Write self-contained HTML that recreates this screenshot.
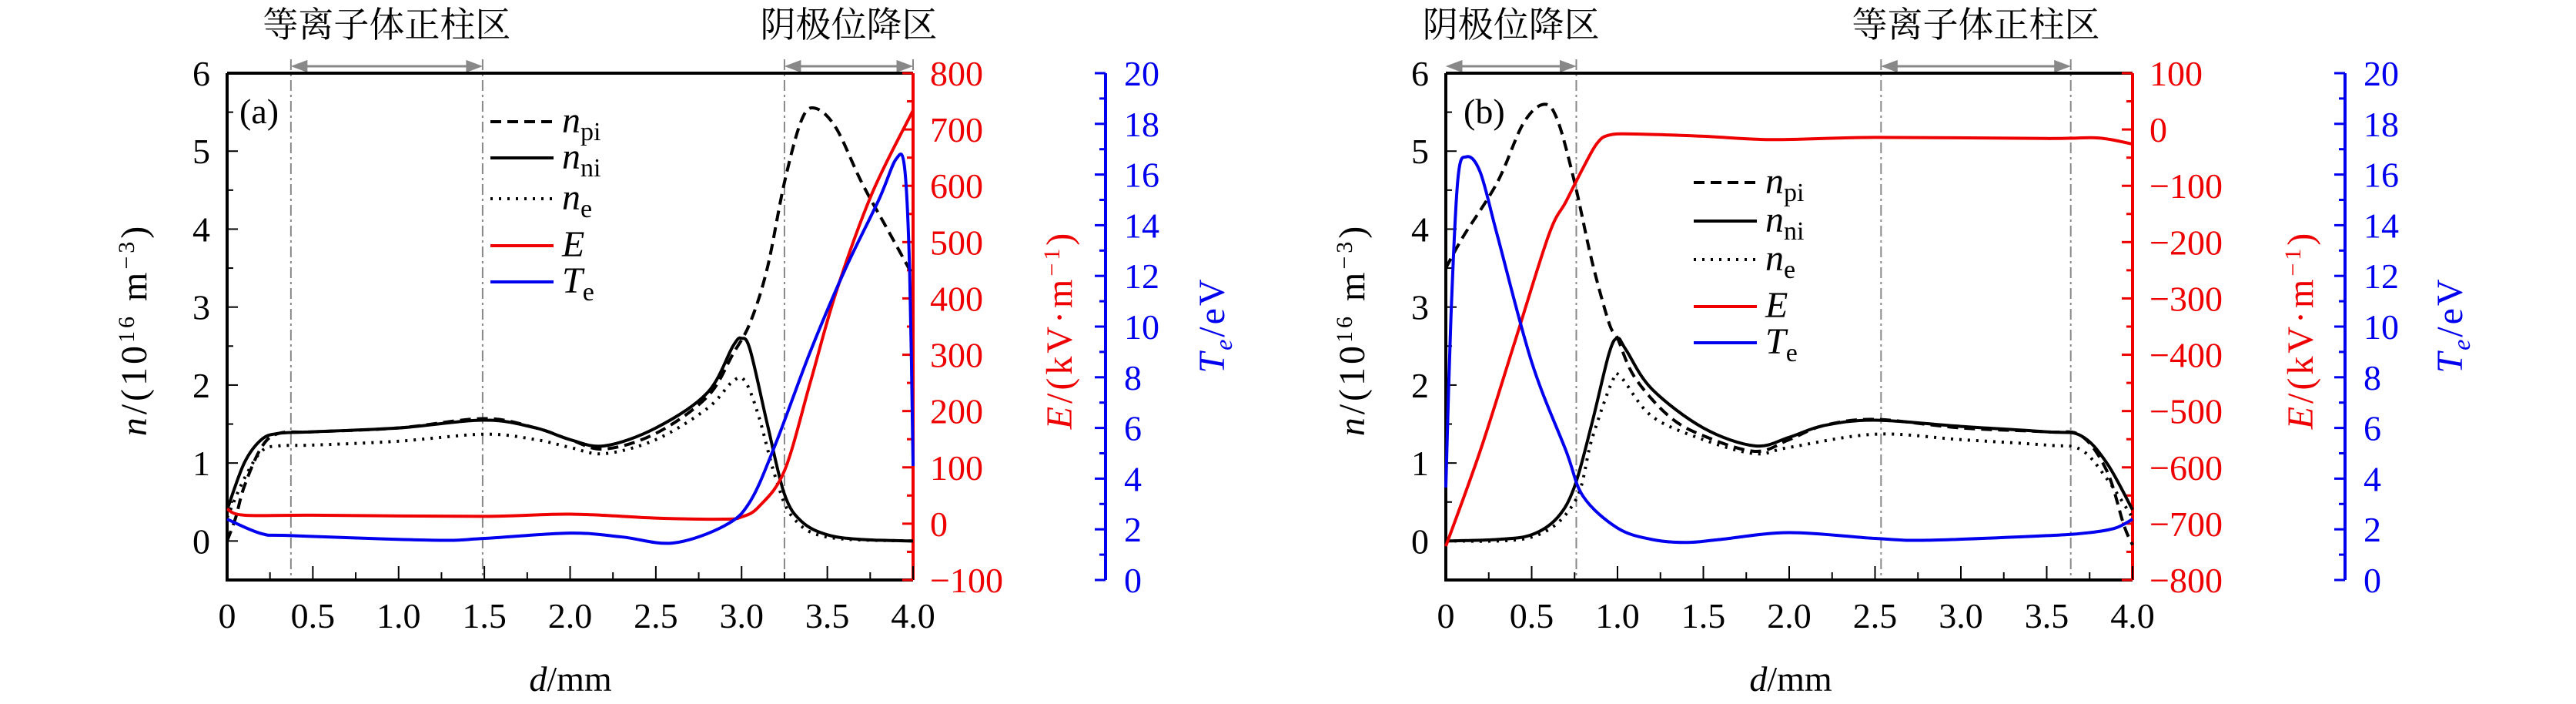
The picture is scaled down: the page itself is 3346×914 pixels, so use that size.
<!DOCTYPE html>
<html><head><meta charset="utf-8"><style>
body{margin:0;background:#fff}
svg{display:block}
text{font-family:"Liberation Serif","Noto Serif CJK SC",serif}
</style></head><body>
<svg id="fig" width="3346" height="914" viewBox="0 0 3346 914" xmlns="http://www.w3.org/2000/svg"></svg>
<script>
// ---- Panel (a) data ----
const aNpiX=[0,0.05,0.1,0.2,0.3,0.5,1.0,1.5,1.8,2.0,2.2,2.5,2.8,2.95,3.05,3.15,3.25,3.35,3.43,3.55,3.7,3.85,4.0];
const aNpiY=[0.0,0.3,0.7,1.2,1.38,1.4,1.45,1.57,1.45,1.3,1.18,1.38,1.85,2.4,2.8,3.5,4.6,5.4,5.55,5.3,4.6,4.0,3.4];
const aNniX=[0,0.1,0.2,0.3,0.5,1.0,1.5,1.8,2.0,2.2,2.5,2.8,2.95,3.0,3.05,3.15,3.25,3.35,3.5,3.7,4.0];
const aNniY=[0.4,1.0,1.3,1.38,1.4,1.45,1.55,1.45,1.3,1.22,1.45,1.9,2.5,2.6,2.45,1.5,0.6,0.25,0.08,0.02,0.0];
const aNeX=[0,0.1,0.2,0.3,0.5,1.0,1.5,1.8,2.0,2.2,2.5,2.8,2.95,3.02,3.1,3.2,3.3,3.5,4.0];
const aNeY=[0.3,0.8,1.15,1.22,1.23,1.28,1.37,1.3,1.2,1.12,1.3,1.7,2.05,2.05,1.6,0.8,0.3,0.05,0.0];
const aEX=[0,0.1,0.5,1.5,2.0,2.5,2.9,3.0,3.1,3.25,3.4,3.55,3.76,4.0];
const aEY=[26,15,15,13,17,10,8,12,30,94,250,410,586,734];
const aTeX=[0,0.2,0.375,1.2,1.5,2.0,2.3,2.6,2.9,3.05,3.2,3.4,3.6,3.8,3.9,3.95,3.98,4.0];
const aTeY=[2.4,1.83,1.75,1.57,1.64,1.85,1.7,1.46,2.14,3.1,5.4,9,12.2,15,16.6,16.3,12.2,4.5];
// ---- Panel (b) data ----
const bNpiX=[0,0.1,0.3,0.45,0.57,0.65,0.75,0.85,0.95,1.0,1.1,1.3,1.5,1.8,2.0,2.2,2.5,3.0,3.5,3.7,3.85,3.95,4.0];
const bNpiY=[3.5,3.9,4.6,5.35,5.6,5.4,4.6,3.6,2.8,2.6,2.1,1.6,1.35,1.15,1.3,1.48,1.56,1.45,1.4,1.35,0.9,0.2,-0.05];
const bNniX=[0,0.3,0.5,0.65,0.75,0.85,0.95,1.0,1.05,1.2,1.5,1.8,2.0,2.2,2.5,3.0,3.5,3.7,3.85,4.0];
const bNniY=[0,0.02,0.08,0.3,0.7,1.5,2.4,2.6,2.45,1.95,1.45,1.22,1.33,1.48,1.55,1.47,1.4,1.35,1.0,0.4];
const bNeX=[0,0.5,0.75,0.85,0.97,1.02,1.2,1.5,1.8,2.0,2.5,3.0,3.5,3.7,3.85,4.0];
const bNeY=[0,0.05,0.5,1.3,2.05,2.1,1.6,1.3,1.12,1.2,1.37,1.3,1.23,1.17,0.8,0.3];
const bEX=[0,0.2,0.4,0.6,0.7,0.8,0.88,0.95,1.1,1.5,1.9,2.5,3.5,3.8,4.0];
const bEY=[-740,-571,-379,-187,-128,-68,-25,-10,-8,-12,-18,-14,-16,-15,-26];
const bTeX=[0,0.03,0.07,0.12,0.2,0.3,0.5,0.7,0.8,1.0,1.2,1.4,1.6,2.0,2.5,2.8,3.5,3.75,3.9,4.0];
const bTeY=[3.65,10.4,15.8,16.7,16.1,13.6,8.6,5.1,3.3,2.05,1.6,1.48,1.6,1.87,1.64,1.57,1.75,1.87,2.05,2.4];
// axis ticks
const xTicks=[0,0.5,1.0,1.5,2.0,2.5,3.0,3.5,4.0];
const xTickLabels=["0","0.5","1.0","1.5","2.0","2.5","3.0","3.5","4.0"];
const nTicks=[0,1,2,3,4,5,6];
const teTicks=[0,2,4,6,8,10,12,14,16,18,20];
const aETicks=[-100,0,100,200,300,400,500,600,700,800];
const bETicks=[-800,-700,-600,-500,-400,-300,-200,-100,0,100];

const NS="http://www.w3.org/2000/svg";
const svg=document.getElementById('fig');
function el(tag,attrs,parent,txt){const e=document.createElementNS(NS,tag);for(const k in attrs)e.setAttribute(k,attrs[k]);if(txt!==undefined)e.textContent=txt;(parent||svg).appendChild(e);return e;}
function smooth(pts){let d=`M${pts[0][0]},${pts[0][1]}`;for(let i=0;i<pts.length-1;i++){const p0=pts[i-1]||pts[i],p1=pts[i],p2=pts[i+1],p3=pts[i+2]||p2;const c1=[p1[0]+(p2[0]-p0[0])/6,p1[1]+(p2[1]-p0[1])/6],c2=[p2[0]-(p3[0]-p1[0])/6,p2[1]-(p3[1]-p1[1])/6];d+=` C${c1[0]},${c1[1]} ${c2[0]},${c2[1]} ${p2[0]},${p2[1]}`;}return d;}
const MINUS="\u2212";
function fmt(v){return v<0?MINUS+Math.abs(v):String(v);}

function panel(cfg){
  const g=el('g',{});
  
  
  const L=cfg.left,R=cfg.right,T=95,B=753;
  const sx=v=>L+(R-L)*v/4;
  const sn=v=>B-(B-T)*(v+0.5)/6.5;
  const sE=v=>B-(B-T)*(v-cfg.eMin)/(cfg.eMax-cfg.eMin);
  const sT=v=>B-(B-T)*v/20;
  cfg.vlines.forEach(v=>{const l=el('line',{x1:sx(v),x2:sx(v),y1:T-18,y2:B,stroke:'#888','stroke-width':2,'stroke-dasharray':'14 5 3 5'},g);
    });
  cfg.arrows.forEach(a=>{const x1=sx(a[0]),x2=sx(a[1]),y=86;
    const p=el('path',{d:`M${x1+4},${y}L${x2-4},${y}M${x1+4},${y}l16,-6v12z M${x2-4},${y}l-16,-6v12z`,stroke:'#888','stroke-width':3,fill:'#888'},g);
    
    const t=el('text',{x:(x1+x2)/2,y:48,'font-size':46,'text-anchor':'middle',fill:'#000'},g,a[2]);
    });
  const fr=el('path',{d:`M${L},${T}H${R}M${L},${T}V${B}H${R}`,stroke:'#000','stroke-width':4,fill:'none'},g);
  
  const ea=el('line',{x1:R,x2:R,y1:T,y2:B,stroke:'#e00','stroke-width':4},g);
  
  const TA=cfg.teAxis;
  const ta=el('line',{x1:TA,x2:TA,y1:T,y2:B,stroke:'#00e','stroke-width':4},g);
  
  for(let v=0;v<=4.001;v+=0.25){const maj=Math.abs(v*2-Math.round(v*2))<1e-6;el('line',{x1:sx(v),x2:sx(v),y1:B,y2:B-(maj?18:10),stroke:'#000','stroke-width':2},g);}
  xTicks.forEach((v,i)=>{const t=el('text',{x:sx(v),y:815,'font-size':46,'text-anchor':'middle'},g,xTickLabels[i]);
    });
  for(let v=-0.5;v<=6.001;v+=0.5){const maj=Math.abs(v-Math.round(v))<1e-6;el('line',{x1:L,x2:L+(maj?14:8),y1:sn(v),y2:sn(v),stroke:'#000','stroke-width':2},g);}
  nTicks.forEach(v=>{const t=el('text',{x:L-22,y:sn(v)+16,'font-size':46,'text-anchor':'end'},g,String(v));
    });
  for(let v=cfg.eMin;v<=cfg.eMax;v+=50){const maj=v%100===0;el('line',{x1:R,x2:R-(maj?14:8),y1:sE(v),y2:sE(v),stroke:'#e00','stroke-width':3},g);}
  cfg.eTicks.forEach(v=>{const t=el('text',{x:R+22,y:sE(v)+16,'font-size':46,fill:'#e00'},g,fmt(v));
    });
  for(let v=0;v<=20;v+=1){const maj=v%2===0;el('line',{x1:TA,x2:TA-(maj?14:8),y1:sT(v),y2:sT(v),stroke:'#00e','stroke-width':3},g);}
  teTicks.forEach(v=>{const t=el('text',{x:TA+24,y:sT(v)+16,'font-size':46,fill:'#00e'},g,String(v));
    });
  let t=el('text',{x:cfg.xTitle,y:897,'font-size':46,'text-anchor':'middle'},g);
  t.innerHTML='<tspan font-style="italic">d</tspan>/mm';
  
  t=el('text',{transform:`translate(${cfg.nTitle},428) rotate(-90)`,'font-size':48,'text-anchor':'middle','letter-spacing':4},g);
  t.innerHTML='<tspan font-style="italic">n</tspan>/(10<tspan font-size="30" dy="-16">16</tspan><tspan dy="16"> m</tspan><tspan font-size="30" dy="-16">−3</tspan><tspan dy="16">)</tspan>';
  
  t=el('text',{transform:`translate(${cfg.eTitle},428) rotate(-90)`,'font-size':48,'text-anchor':'middle','letter-spacing':4,fill:'#e00'},g);
  t.innerHTML='<tspan font-style="italic">E</tspan>/(kV·m<tspan font-size="30" dy="-16">−1</tspan><tspan dy="16">)</tspan>';
  
  t=el('text',{transform:`translate(${cfg.teTitle},422) rotate(-90)`,'font-size':48,'text-anchor':'middle','letter-spacing':3,fill:'#00e'},g);
  t.innerHTML='<tspan font-style="italic">T</tspan><tspan font-size="32" dy="10" font-style="italic">e</tspan><tspan dy="-10">/eV</tspan>';
  
  t=el('text',{x:cfg.tag,y:160,'font-size':46},g,cfg.label);
  
  const series=[
    [cfg.npiX,cfg.npiY,sn,'#000','14 8','npi-curve'],
    [cfg.nniX,cfg.nniY,sn,'#000','','nni-curve'],
    [cfg.neX,cfg.neY,sn,'#000','3 8','ne-curve'],
    [cfg.eX,cfg.eY,sE,'#e00','','e-curve'],
    [cfg.teX,cfg.teY,sT,'#00e','','te-curve']];
  series.forEach(s=>{const pts=s[0].map((x,i)=>[sx(x),s[2](s[1][i])]);
    const p=el('path',{d:smooth(pts),fill:'none',stroke:s[3],'stroke-width':4,'stroke-dasharray':s[4]||'none'},g);
    });
  const lg=el('g',{},g);
  
  const labels=[['n','pi','#000','14 8'],['n','ni','#000',''],['n','e','#000','3 8'],['E','','#e00',''],['T','e','#00e','']];
  labels.forEach((lb,i)=>{const y=cfg.legY[i];
    el('line',{x1:cfg.legX,x2:cfg.legX+82,y1:y,y2:y,stroke:lb[2],'stroke-width':4,'stroke-dasharray':lb[3]||'none'},lg);
    const tt=el('text',{x:cfg.legX+93,y:y+14,'font-size':48},lg);
    tt.innerHTML=`<tspan font-style="italic">${lb[0]}</tspan><tspan font-size="34" dy="10">${lb[1]}</tspan>`;
    });
}
panel({name:'panel-a',left:295,right:1186,teAxis:1436,eMin:-100,eMax:800,eTicks:aETicks,
  vlines:[0.372,1.49,3.25,4.0],arrows:[[0.372,1.49,'等离子体正柱区'],[3.25,4.0,'阴极位降区']],
  xTitle:741,nTitle:190,eTitle:1392,teTitle:1590,tag:311,label:'(a)',legX:637,legY:[158,205,258,319,366],
  npiX:aNpiX,npiY:aNpiY,nniX:aNniX,nniY:aNniY,neX:aNeX,neY:aNeY,eX:aEX,eY:aEY,teX:aTeX,teY:aTeY});
panel({name:'panel-b',left:1878,right:2770,teAxis:3046,eMin:-800,eMax:100,eTicks:bETicks,
  vlines:[0.76,2.535,3.64],arrows:[[0,0.76,'阴极位降区'],[2.535,3.64,'等离子体正柱区']],
  xTitle:2326,nTitle:1772,eTitle:3004,teTitle:3198,tag:1901,label:'(b)',legX:2200,legY:[237,287,337,398,445],
  npiX:bNpiX,npiY:bNpiY,nniX:bNniX,nniY:bNniY,neX:bNeX,neY:bNeY,eX:bEX,eY:bEY,teX:bTeX,teY:bTeY});
</script>
</body></html>
